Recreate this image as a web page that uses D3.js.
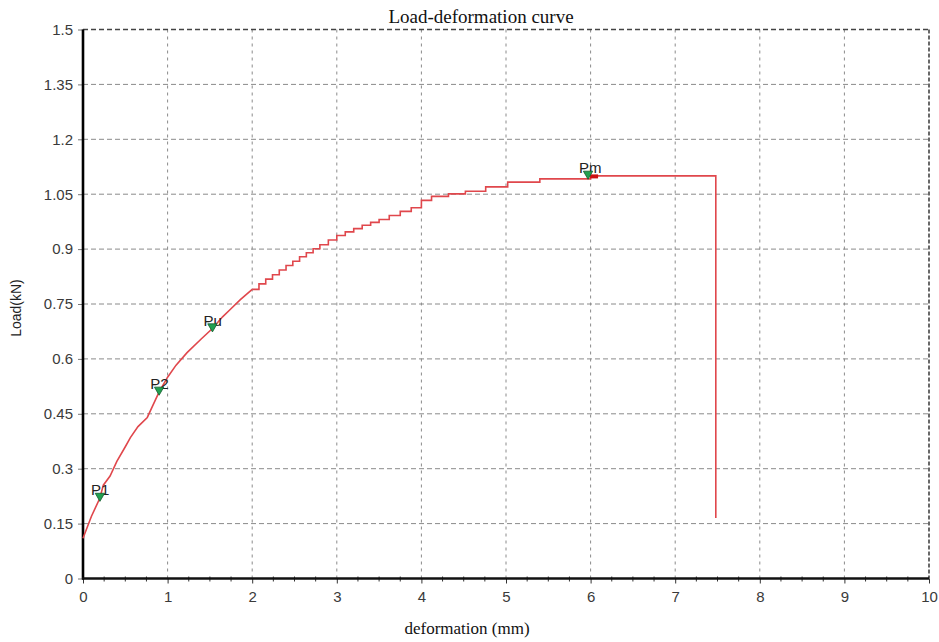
<!DOCTYPE html>
<html>
<head>
<meta charset="utf-8">
<script src="https://cdn.jsdelivr.net/npm/d3@7/dist/d3.min.js"></script>
<style>
  html, body { margin: 0; padding: 0; background: #fff; }
  svg { display: block; }
</style>
</head>
<body>
<svg id="chart" width="939" height="642"></svg>
<script>
// ---- data ----
const xTicks = [0, 1, 2, 3, 4, 5, 6, 7, 8, 9, 10];
const yTicks = [0, 0.15, 0.3, 0.45, 0.6, 0.75, 0.9, 1.05, 1.2, 1.35, 1.5];
const yTickLabels = ["0", "0.15", "0.3", "0.45", "0.6", "0.75", "0.9", "1.05", "1.2", "1.35", "1.5"];

// rising part (drawn as a line)
const riseDeformation = [0, 0.05, 0.1, 0.2, 0.24, 0.32, 0.4, 0.5, 0.56, 0.65, 0.76, 0.83, 0.9, 1.0, 1.1, 1.23, 1.4, 1.53, 1.65, 1.74, 1.86, 2.0];
const riseLoad        = [0.11, 0.14, 0.17, 0.22, 0.255, 0.28, 0.32, 0.36, 0.385, 0.415, 0.44, 0.475, 0.51, 0.55, 0.583, 0.617, 0.655, 0.683, 0.715, 0.735, 0.762, 0.79];

// stepped part (drawn as steps), ending with the drop at failure
const stepDeformation = [2.0, 2.08, 2.16, 2.24, 2.32, 2.4, 2.48, 2.56, 2.64, 2.72, 2.8, 2.9, 3.0, 3.1, 3.2, 3.3, 3.4, 3.5, 3.62, 3.75, 3.88, 4.0, 4.12, 4.32, 4.52, 4.76, 5.02, 5.4, 6.0, 7.48];
const stepLoad        = [0.79, 0.805, 0.818, 0.83, 0.843, 0.855, 0.867, 0.879, 0.89, 0.901, 0.912, 0.925, 0.937, 0.947, 0.956, 0.965, 0.973, 0.981, 0.992, 1.003, 1.013, 1.033, 1.044, 1.051, 1.058, 1.07, 1.083, 1.092, 1.1, 0.165];

// characteristic points
const pointNames       = ["P1", "P2", "Pu", "Pm"];
const pointDeformation = [0.2, 0.9, 1.53, 5.97];
const pointLoad        = [0.22, 0.51, 0.683, 1.1];

(function () {
// ---- layout ----
const svg = d3.select("#chart");
const mLeft = 83, mRight = 929, mTop = 29.5, mBottom = 578.5;

const x = d3.scaleLinear().domain([0, 10]).range([mLeft, mRight]);
const y = d3.scaleLinear().domain([0, 1.5]).range([mBottom, mTop]);

// grid
const grid = svg.append("g");
grid.selectAll("line.h").data(yTicks.slice(1, -1)).enter().append("line")
  .attr("x1", mLeft).attr("x2", mRight)
  .attr("y1", d => y(d)).attr("y2", d => y(d))
  .attr("stroke", "#8a8a8a").attr("stroke-width", 1).attr("stroke-dasharray", "5,3");
grid.selectAll("line.v").data(xTicks.slice(1, -1)).enter().append("line")
  .attr("y1", mTop).attr("y2", mBottom)
  .attr("x1", d => x(d)).attr("x2", d => x(d))
  .attr("stroke", "#8a8a8a").attr("stroke-width", 1).attr("stroke-dasharray", "3,4");

// top / right dashed frame
svg.append("line").attr("x1", mLeft).attr("x2", mRight).attr("y1", y(1.5)).attr("y2", y(1.5))
  .attr("stroke", "#444").attr("stroke-width", 1.4).attr("stroke-dasharray", "5,3");
svg.append("line").attr("x1", x(10)).attr("x2", x(10)).attr("y1", mTop).attr("y2", mBottom)
  .attr("stroke", "#444").attr("stroke-width", 1.6).attr("stroke-dasharray", "4,2");

// axes
const fontSans = "'Liberation Sans', Arial, sans-serif";
const fontSerif = "'Liberation Serif', 'Times New Roman', serif";

const yAxis = d3.axisLeft(y).tickValues(yTicks).tickFormat((d, i) => yTickLabels[i]).tickSize(5).tickPadding(5);
const gy = svg.append("g").attr("transform", `translate(${mLeft},0)`).call(yAxis);
gy.select(".domain").remove();
gy.selectAll(".tick line").attr("stroke", "#777");
gy.selectAll("text").attr("font-family", fontSans).attr("font-size", 15).attr("fill", "#3a3a3a");

const xAxis = d3.axisBottom(x).tickValues(xTicks).tickFormat(d3.format("d")).tickSize(5).tickPadding(8);
const gx = svg.append("g").attr("transform", `translate(0,${mBottom})`).call(xAxis);
gx.select(".domain").remove();
gx.selectAll(".tick line").attr("stroke", "#333");
gx.selectAll("text").attr("font-family", fontSans).attr("font-size", 15).attr("fill", "#3a3a3a");

// minor ticks on x axis
const minor = d3.range(0, 40).map(i => i * 0.25).filter(v => v % 1 !== 0);
svg.append("g").selectAll("line").data(minor).enter().append("line")
  .attr("x1", d => x(d)).attr("x2", d => x(d))
  .attr("y1", mBottom - 2).attr("y2", mBottom + 3)
  .attr("stroke", "#333").attr("stroke-width", 1);

// thick axis lines
svg.append("line").attr("x1", mLeft).attr("x2", mLeft).attr("y1", mTop).attr("y2", mBottom + 1)
  .attr("stroke", "#000").attr("stroke-width", 2.6);
svg.append("line").attr("x1", mLeft - 1).attr("x2", mRight).attr("y1", mBottom).attr("y2", mBottom)
  .attr("stroke", "#111").attr("stroke-width", 2.6);

// curve
const riseData = riseDeformation.map((d, i) => [d, riseLoad[i]]);
const stepData = stepDeformation.map((d, i) => [d, stepLoad[i]]);
const curveColor = "#e0474c";

svg.append("path").datum(riseData)
  .attr("d", d3.line().x(d => x(d[0])).y(d => y(d[1])).curve(d3.curveLinear))
  .attr("fill", "none").attr("stroke", curveColor).attr("stroke-width", 1.6);
svg.append("path").datum(stepData)
  .attr("d", d3.line().x(d => x(d[0])).y(d => y(d[1])).curve(d3.curveStepAfter))
  .attr("fill", "none").attr("stroke", curveColor).attr("stroke-width", 1.6);

// red mark at Pm
const iPm = pointNames.indexOf("Pm");
svg.append("rect")
  .attr("x", x(pointDeformation[iPm]) + 2).attr("y", y(pointLoad[iPm]) - 1.5)
  .attr("width", 8).attr("height", 4).attr("fill", "#cc1111");

// markers and labels
const pts = pointNames.map((n, i) => ({ n, px: x(pointDeformation[i]), py: y(pointLoad[i]) }));
const tri = d3.symbol().type(d3.symbolTriangle).size(38);
svg.append("g").selectAll("text").data(pts).enter().append("text")
  .attr("x", d => d.px - 9).attr("y", d => d.py - 3)
  .attr("font-family", fontSans).attr("font-size", 15).attr("fill", "#222")
  .text(d => d.n);
svg.append("g").selectAll("path").data(pts).enter().append("path")
  .attr("d", tri)
  .attr("transform", d => `translate(${d.px},${d.py - 2}) rotate(180)`)
  .attr("fill", "#22a050").attr("stroke", "#135c2c").attr("stroke-width", 0.8);

// title and axis labels
svg.append("text").attr("x", 481).attr("y", 23).attr("text-anchor", "middle")
  .attr("font-family", fontSerif).attr("font-size", 19).attr("fill", "#111")
  .text("Load-deformation curve");
svg.append("text").attr("x", 467).attr("y", 634).attr("text-anchor", "middle")
  .attr("font-family", fontSerif).attr("font-size", 17).attr("fill", "#111")
  .text("deformation (mm)");
svg.append("text").attr("transform", "translate(21,308) rotate(-90)").attr("text-anchor", "middle")
  .attr("font-family", fontSans).attr("font-size", 14).attr("fill", "#222")
  .text("Load(kN)");
})();
</script>
</body>
</html>
